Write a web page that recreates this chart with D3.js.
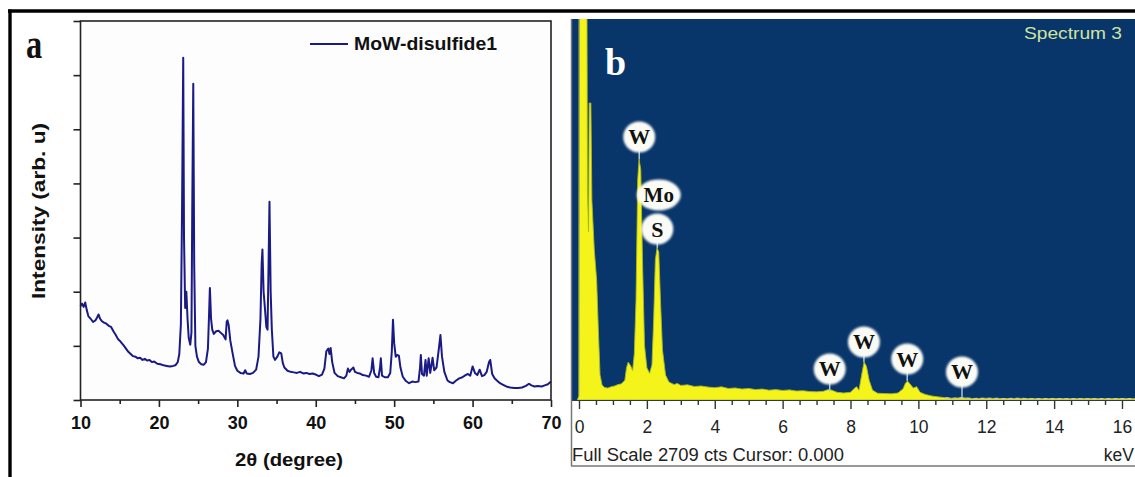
<!DOCTYPE html>
<html>
<head>
<meta charset="utf-8">
<script src="https://cdn.jsdelivr.net/npm/d3@7"></script>
<style>
  html, body { margin: 0; padding: 0; background: #ffffff; }
  svg { display: block; }
</style>
</head>
<body>
<script>
// ---------------- DATA ----------------
// Panel a: XRD pattern (2θ in degrees, intensity in arbitrary units)
const xrdTwoTheta = [
  10.0,10.2,10.4,10.6,10.8,11.0,11.3,11.6,11.9,12.1,12.3,12.5,12.7,13.0,13.3,13.6,13.9,14.2,14.5,14.8,
  15.1,15.5,15.8,16.1,16.4,16.7,17.0,17.3,17.6,17.9,18.2,18.5,18.8,19.1,19.4,19.8,20.2,20.6,21.0,21.4,
  21.8,22.1,22.4,22.6,22.8,22.95,23.1,23.2,23.35,23.5,23.65,23.8,24.0,24.15,24.25,24.38,24.5,24.65,24.85,25.1,
  25.4,25.7,26.0,26.25,26.4,26.5,26.65,26.8,27.0,27.3,27.6,27.9,28.2,28.5,28.65,28.75,28.9,29.1,29.4,29.7,
  30.0,30.4,30.8,31.0,31.2,31.6,32.0,32.4,32.7,32.95,33.1,33.2,33.35,33.5,33.7,33.85,33.95,34.1,34.25,34.4,
  34.6,34.8,35.1,35.35,35.6,35.8,36.0,36.4,36.8,37.2,37.6,38.0,38.4,38.8,39.2,39.6,40.0,40.4,40.8,41.1,
  41.35,41.6,41.75,41.9,42.1,42.4,42.8,43.2,43.6,43.9,44.1,44.3,44.5,44.8,45.0,45.3,45.6,46.0,46.4,46.8,
  47.1,47.25,47.45,47.7,48.0,48.2,48.3,48.45,48.8,49.2,49.5,49.7,49.85,50.0,50.2,50.4,50.6,50.8,51.1,51.5,
  51.9,52.3,52.7,53.1,53.3,53.4,53.55,53.8,54.0,54.15,54.4,54.6,54.9,55.1,55.4,55.7,55.9,56.1,56.4,56.8,
  57.1,57.5,57.9,58.3,58.7,59.1,59.4,59.7,60.0,60.3,60.6,60.9,61.2,61.5,61.8,62.1,62.25,62.5,62.8,63.1,
  63.5,63.9,64.3,64.8,65.3,65.8,66.3,66.8,67.2,67.5,67.9,68.3,68.8,69.2,69.6,70.0
];
const xrdIntensity = [
  1730,1780,1720,1800,1660,1550,1500,1440,1470,1520,1580,1500,1460,1430,1410,1370,1350,1270,1200,1120,
  1080,1010,950,890,850,810,800,770,780,740,760,730,740,700,710,670,660,640,630,620,
  630,640,700,850,1400,3500,6320,3000,1700,2000,1500,1150,1020,1250,3500,5840,2500,1000,800,700,
  660,650,700,950,1600,2070,1500,1300,1220,1270,1280,1240,1200,1120,1450,1470,1380,1100,860,630,
  540,500,490,550,490,480,500,560,800,1500,2500,2780,2000,1730,1350,1300,2200,3660,2000,1300,
  800,740,800,880,860,680,600,540,520,510,500,520,490,500,480,490,470,440,470,580,
  900,950,850,960,700,500,440,420,400,450,580,520,560,600,520,500,490,460,450,430,
  550,770,500,430,420,600,770,450,420,420,500,900,1480,1050,800,830,820,600,430,350,
  310,340,330,340,600,830,480,450,740,450,770,500,780,550,600,950,1200,800,520,360,
  330,310,360,400,420,460,480,450,620,500,460,560,440,460,520,700,740,480,400,360,
  310,280,250,230,220,220,230,260,300,270,250,260,250,270,290,340
];
const xrdSeriesName = "MoW-disulfide1";
const xrdXTicks = [10, 20, 30, 40, 50, 60, 70];
const xrdXMinorTicks = [15, 25, 35, 45, 55, 65];
const xrdYTicks = [0, 1000, 2000, 3000, 4000, 5000, 6000, 7000];

// Panel b: EDS spectrum (energy in keV, counts)
const edsEnergy = [
  -0.05,0.0,0.02,0.23,0.25,0.28,0.30,0.35,0.38,0.45,0.52,0.57,0.62,0.68,0.75,0.85,0.95,1.05,1.15,1.25,
  1.35,1.40,1.45,1.52,1.58,1.63,1.68,1.73,1.77,1.82,1.87,1.93,2.00,2.08,2.15,2.20,2.25,2.30,2.35,2.40,
  2.46,2.55,2.65,2.8,2.9,3.0,3.2,3.4,3.6,3.8,4.0,4.2,4.4,4.6,4.8,5.0,5.2,5.4,5.6,5.8,
  6.0,6.2,6.4,6.6,6.8,7.0,7.2,7.35,7.45,7.6,7.8,8.0,8.1,8.18,8.25,8.33,8.40,8.47,8.55,8.65,
  8.8,9.0,9.2,9.4,9.55,9.62,9.68,9.75,9.85,9.95,10.05,10.2,10.4,10.6,10.8,11.0,11.3,11.6,12.0,12.5,
  13.0,13.5,14.0,14.5,15.0,15.5,16.0,16.6
];
const edsCounts = [
  0,30,3200,3200,1500,1200,2117,2117,1420,1070,855,500,180,107,90,85,95,100,110,115,
  140,230,270,245,210,330,710,1570,1718,1640,1000,390,230,190,250,570,1000,1084,1055,713,
  356,178,128,110,118,104,108,96,100,92,88,94,82,86,78,82,74,78,70,74,
  68,72,64,66,60,58,62,75,70,55,50,55,80,95,70,180,270,240,140,70,
  48,46,44,50,80,120,135,115,85,95,55,40,28,22,16,12,16,10,12,10,
  11,9,10,9,10,9,10,9
];
const edsFullScale = 2709;
const edsXTicks = [0, 2, 4, 6, 8, 10, 12, 14, 16];
const edsMinorTicks = d3.range(0, 16.51, 0.5).filter(v => v % 2 !== 0);
// element labels: text, line energy (keV), marker height (counts), peak height (counts)
const edsLabelText   = ["W", "Mo", "S", "W", "W", "W", "W"];
const edsLabelEnergy = [1.775, 2.35, 2.307, 7.387, 8.396, 9.671, 11.285];
const edsLabelCounts = [1875, 1462, 1219, 221, 414, 292, 200];
const edsLabelPeak   = [1718, 1462, 1084, 62, 270, 135, 16];

// ---------------- DRAWING ----------------
const W = 1135, H = 477;
const svg = d3.select("body").append("svg").attr("width", W).attr("height", H);
const sans = "'Liberation Sans', Arial, sans-serif";
const serif = "'Liberation Serif', 'Times New Roman', serif";

// outer frame (top + left)
svg.append("line").attr("x1", 8).attr("x2", W).attr("y1", 11).attr("y2", 11)
  .attr("stroke", "#000").attr("stroke-width", 3.4);
svg.append("line").attr("x1", 10).attr("x2", 10).attr("y1", 9.5).attr("y2", H)
  .attr("stroke", "#000").attr("stroke-width", 3.4);

// ===== Panel a =====
const ax = { left: 80.5, right: 551, top: 21, bottom: 400 };
const xA = d3.scaleLinear().domain([10, 70]).range([ax.left, ax.right]);
const yA = d3.scaleLinear().domain([0, 7000]).range([ax.bottom, ax.top]);

const gA = svg.append("g");
gA.append("rect").attr("x", ax.left).attr("y", ax.top)
  .attr("width", ax.right - ax.left).attr("height", ax.bottom - ax.top)
  .attr("fill", "#fdfdfd");

const xrd = xrdTwoTheta.map((t, i) => [t, xrdIntensity[i]]);
gA.append("path").datum(xrd)
  .attr("d", d3.line().x(d => xA(d[0])).y(d => yA(d[1])))
  .attr("fill", "none").attr("stroke", "#1a1a86").attr("stroke-width", 2)
  .attr("stroke-linejoin", "round");

gA.append("rect").attr("x", ax.left).attr("y", ax.top)
  .attr("width", ax.right - ax.left).attr("height", ax.bottom - ax.top)
  .attr("fill", "none").attr("stroke", "#222").attr("stroke-width", 1.6);

const yAxisA = gA.append("g").attr("transform", `translate(${ax.left},0)`)
  .call(d3.axisLeft(yA).tickValues(xrdYTicks).tickSize(7).tickFormat(""));
yAxisA.select(".domain").remove();
yAxisA.selectAll("line").attr("stroke", "#222").attr("stroke-width", 1.6);

const xAxisA = gA.append("g").attr("transform", `translate(0,${ax.bottom})`)
  .call(d3.axisBottom(xA).tickValues(xrdXTicks).tickSize(7).tickPadding(9).tickFormat(d3.format("d")));
xAxisA.select(".domain").remove();
xAxisA.selectAll("line").attr("stroke", "#222").attr("stroke-width", 1.6);
xAxisA.selectAll("text").attr("font-family", sans).attr("font-weight", "bold")
  .attr("font-size", 18).attr("fill", "#111");
const xMinorA = gA.append("g").attr("transform", `translate(0,${ax.bottom})`)
  .call(d3.axisBottom(xA).tickValues(xrdXMinorTicks).tickSize(4).tickFormat(""));
xMinorA.select(".domain").remove();
xMinorA.selectAll("line").attr("stroke", "#222").attr("stroke-width", 1.6);

// axis titles
gA.append("text").attr("x", 289).attr("y", 466).attr("text-anchor", "middle")
  .attr("font-family", sans).attr("font-weight", "bold").attr("font-size", 18)
  .attr("fill", "#111").attr("textLength", 108).attr("lengthAdjust", "spacingAndGlyphs")
  .text("2\u03b8 (degree)");
gA.append("text").attr("transform", "translate(45,211) rotate(-90)")
  .attr("text-anchor", "middle")
  .attr("font-family", sans).attr("font-weight", "bold").attr("font-size", 18)
  .attr("fill", "#111").attr("textLength", 176).attr("lengthAdjust", "spacingAndGlyphs")
  .text("Intensity (arb. u)");

// legend
gA.append("line").attr("x1", 310).attr("x2", 348).attr("y1", 44).attr("y2", 44)
  .attr("stroke", "#1a1a86").attr("stroke-width", 1.8);
gA.append("text").attr("x", 354).attr("y", 50)
  .attr("font-family", sans).attr("font-weight", "bold").attr("font-size", 17.5)
  .attr("fill", "#111").attr("textLength", 143).attr("lengthAdjust", "spacingAndGlyphs")
  .text(xrdSeriesName);

// panel letter a
gA.append("text").attr("transform", "translate(26,58) scale(0.9,1.2)")
  .attr("font-family", serif).attr("font-weight", "bold").attr("font-size", 36)
  .attr("fill", "#111").text("a");

// ===== Panel b =====
const bx = { left: 572, right: W, top: 19, plotBottom: 400, bottom: 466 };
const xB = d3.scaleLinear().domain([0, 16]).range([579, 1122]);
const yB = d3.scaleLinear().domain([0, edsFullScale]).range([bx.plotBottom, bx.top + 1]);

const defs = svg.append("defs");
defs.append("clipPath").attr("id", "clipB").append("rect")
  .attr("x", bx.left).attr("y", bx.top).attr("width", bx.right - bx.left).attr("height", bx.bottom - bx.top);
defs.append("clipPath").attr("id", "clipBPlot").append("rect")
  .attr("x", bx.left).attr("y", bx.top).attr("width", bx.right - bx.left).attr("height", bx.plotBottom - bx.top);
const blur = defs.append("filter").attr("id", "soft").attr("x", "-30%").attr("y", "-30%")
  .attr("width", "160%").attr("height", "160%");
blur.append("feGaussianBlur").attr("stdDeviation", 0.9);

const gB = svg.append("g").attr("clip-path", "url(#clipB)");
// white axis strip
gB.append("rect").attr("x", bx.left).attr("y", bx.plotBottom)
  .attr("width", bx.right - bx.left).attr("height", bx.bottom - bx.plotBottom).attr("fill", "#ffffff");
// plot background
gB.append("rect").attr("x", bx.left).attr("y", bx.top)
  .attr("width", bx.right - bx.left).attr("height", bx.plotBottom - bx.top).attr("fill", "#08366a");

const gPlot = gB.append("g").attr("clip-path", "url(#clipBPlot)");
// zero line
gPlot.append("line").attr("x1", xB(0)).attr("x2", xB(0)).attr("y1", bx.top).attr("y2", bx.plotBottom)
  .attr("stroke", "#8f9a7a").attr("stroke-width", 1.2);

const eds = edsEnergy.map((e, i) => [e, edsCounts[i]]);
gPlot.append("path").datum(eds)
  .attr("d", d3.area().x(d => xB(d[0])).y0(yB(0)).y1(d => yB(d[1])))
  .attr("fill", "#f4f41a").attr("stroke", "#a9b52a").attr("stroke-width", 0.9)
  .attr("stroke-linejoin", "round");
// near-zero tail (dashed)
gPlot.append("path").datum(eds.filter(d => d[0] >= 10.8))
  .attr("d", d3.line().x(d => xB(d[0])).y(d => yB(d[1])))
  .attr("fill", "none").attr("stroke", "#c8c8c8").attr("stroke-width", 1.3)
  .attr("stroke-dasharray", "4,3");

// element labels
edsLabelText.forEach((t, i) => {
  const cx = xB(edsLabelEnergy[i]);
  const cy = yB(edsLabelCounts[i]);
  const py = yB(edsLabelPeak[i]);
  const rx = t === "Mo" ? 22 : 16;
  const ry = 15.5;
  if (t !== "Mo") {
    gPlot.append("line").attr("x1", cx).attr("x2", cx).attr("y1", cy + ry - 2).attr("y2", py)
      .attr("stroke", "#a8c4e0").attr("stroke-width", 1.5);
  }
  gPlot.append("ellipse").attr("cx", cx).attr("cy", cy).attr("rx", rx).attr("ry", ry)
    .attr("fill", "#fbfbf6").attr("filter", "url(#soft)");
  gPlot.append("text").attr("x", cx).attr("y", cy + 7.5).attr("text-anchor", "middle")
    .attr("font-family", serif).attr("font-weight", "bold").attr("font-size", t === "Mo" ? 21 : 22)
    .attr("fill", "#111").text(t);
});

// Spectrum title
gB.append("text").attr("x", 1073).attr("y", 39).attr("text-anchor", "middle")
  .attr("font-family", sans).attr("font-size", 17).attr("fill", "#cfe3a0")
  .attr("textLength", 98).attr("lengthAdjust", "spacingAndGlyphs").text("Spectrum 3");

// panel letter b
gB.append("text").attr("x", 605).attr("y", 75)
  .attr("font-family", serif).attr("font-weight", "bold").attr("font-size", 38)
  .attr("fill", "#ffffff").text("b");

// x axis of panel b
const xAxisB = gB.append("g").attr("transform", `translate(0,${bx.plotBottom})`)
  .call(d3.axisBottom(xB).tickValues(edsXTicks).tickSize(9).tickPadding(12).tickFormat(d3.format("d")));
xAxisB.select(".domain").remove();
xAxisB.selectAll("line").attr("stroke", "#333").attr("stroke-width", 1.4);
xAxisB.selectAll("text").attr("font-family", sans).attr("font-size", 17.5).attr("fill", "#222");
const xMinorB = gB.append("g").attr("transform", `translate(0,${bx.plotBottom})`)
  .call(d3.axisBottom(xB).tickValues(edsMinorTicks).tickSize(5).tickFormat(""));
xMinorB.select(".domain").remove();
xMinorB.selectAll("line").attr("stroke", "#333").attr("stroke-width", 1.4);
gB.append("line").attr("x1", bx.left).attr("x2", bx.right).attr("y1", bx.plotBottom + 0.5).attr("y2", bx.plotBottom + 0.5)
  .attr("stroke", "#2a3a50").attr("stroke-width", 1);

gB.append("text").attr("x", 572).attr("y", 461)
  .attr("font-family", sans).attr("font-size", 17.5).attr("fill", "#222")
  .attr("textLength", 272).attr("lengthAdjust", "spacingAndGlyphs")
  .text("Full Scale " + edsFullScale + " cts Cursor: 0.000");
gB.append("text").attr("x", 1134).attr("y", 461).attr("text-anchor", "end")
  .attr("font-family", sans).attr("font-size", 17.5).attr("fill", "#222").text("keV");

// panel b border (left + bottom)
svg.append("line").attr("x1", bx.left - 0.5).attr("x2", bx.left - 0.5).attr("y1", bx.top).attr("y2", bx.bottom)
  .attr("stroke", "#777").attr("stroke-width", 1.5);
svg.append("line").attr("x1", bx.left - 1).attr("x2", W).attr("y1", bx.bottom).attr("y2", bx.bottom)
  .attr("stroke", "#777").attr("stroke-width", 1.5);
</script>
</body>
</html>
